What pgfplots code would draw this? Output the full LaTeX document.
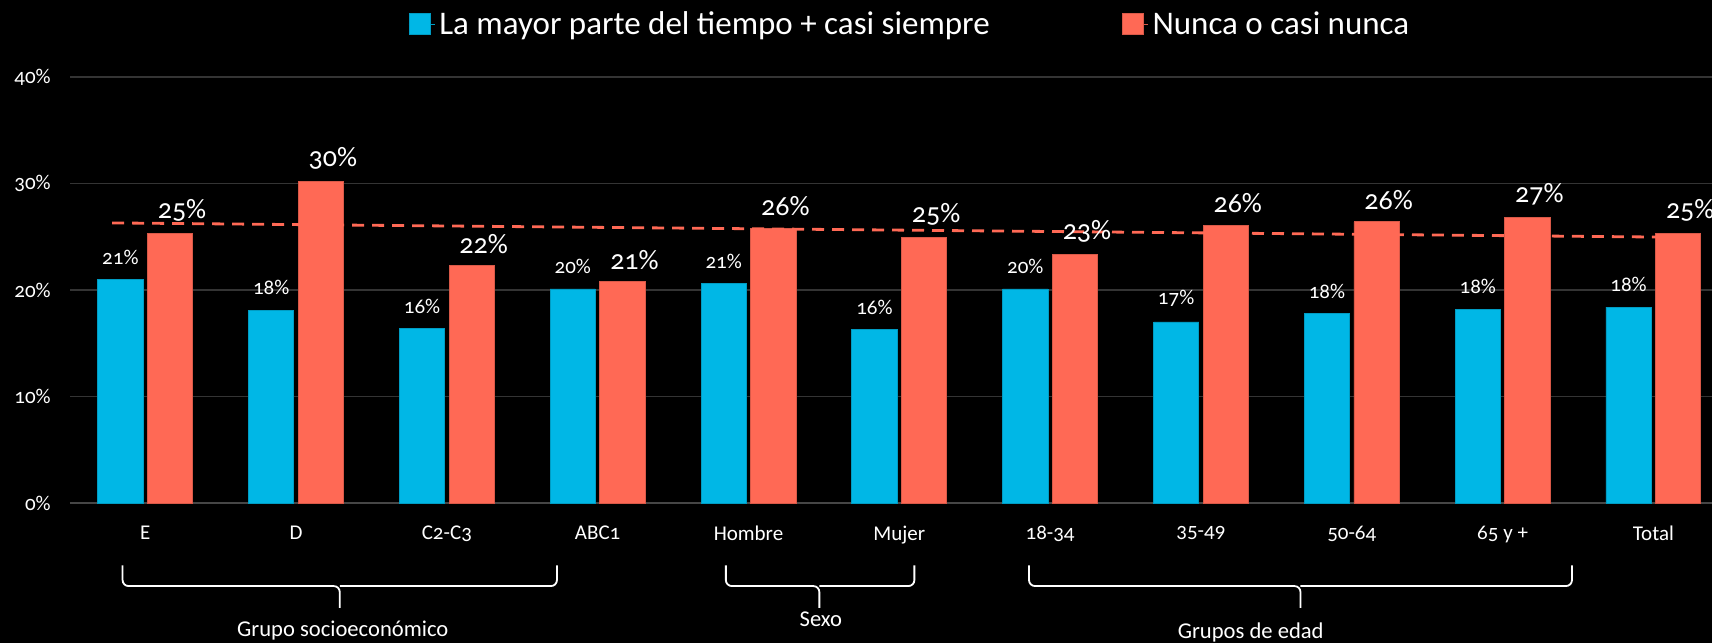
\documentclass[border=0pt]{standalone}
\usepackage{fontspec}
\setmainfont{Carlito}[Numbers=OldStyle]
\usepackage{pgfplots}
\pgfplotsset{compat=1.18}
\definecolor{cblue}{RGB}{0,183,230}
\definecolor{cred}{RGB}{255,105,85}
\definecolor{gridgray}{RGB}{52,52,52}
\definecolor{axgray}{RGB}{70,70,70}
\pgfplotsset{
  sqlegend/.style={legend image code/.code={\path (0pt,0pt) -- (13pt,0pt);\fill[##1] (0pt,-5pt) rectangle (10.5pt,5.5pt);}},
}
\begin{document}
\begin{tikzpicture}
\fill[black] (0,0) rectangle (856pt,321.5pt);
\useasboundingbox (0,0) rectangle (856pt,321.5pt);
\begin{axis}[
    at={(34.9pt,70pt)}, anchor=south west,
    scale only axis, width=829.5pt, height=213pt,
    xmin=-0.5, xmax=10.5, ymin=0, ymax=40,
    ybar=2.2pt, bar width=0.3,
    clip=false,
    axis x line*=bottom, axis y line*=left,
    x axis line style={-, draw=axgray, line width=1.2pt},
    y axis line style={draw=none},
    major tick length=0pt, tick style={draw=none},
    ymajorgrids, grid style={gridgray, line width=0.7pt},
    ytick={0,10,20,30,40},
    yticklabel={\pgfmathprintnumber{\tick}\%},
    /pgf/number format/assume math mode=true,
    xtick={0,...,10},
    xticklabels={E,D,C2-C3,ABC1,Hombre,Mujer,18-34,35-49,50-64,65 y +,Total},
    xticklabel style={font=\fontsize{10.5}{12}\selectfont, text=white, yshift=-8pt},
    yticklabel style={font=\fontsize{10.5}{12}\selectfont, text=white, xshift=-6pt},
    legend style={at={(0.507,1.124)}, anchor=center, draw=none, fill=none,
        text=white, font=\fontsize{16.5}{19}\selectfont, legend columns=2,
        /tikz/every even column/.append style={column sep=64pt}},
]
% La mayor parte del tiempo + casi siempre
\addplot[fill=cblue, draw=cblue!85!black, line width=0.4pt, sqlegend,
    nodes near coords={\pgfmathprintnumber[fixed,precision=0]{\pgfplotspointmeta}\%},
    every node near coord/.append style={text=white, font=\fontsize{10.5}{12}\selectfont, yshift=4pt}]
coordinates {(0,21.0) (1,18.1) (2,16.4) (3,20.1) (4,20.6) (5,16.3) (6,20.1) (7,17.0) (8,17.8) (9,18.2) (10,18.4)};
\addlegendentry{La mayor parte del tiempo + casi siempre}
% Nunca o casi nunca
\addplot[fill=cred, draw=cred!85!black, line width=0.4pt, sqlegend,
    nodes near coords={\pgfmathprintnumber[fixed,precision=0]{\pgfplotspointmeta}\%},
    every node near coord/.append style={text=white, font=\fontsize{14}{16}\selectfont, yshift=2.5pt, xshift=6pt}]
coordinates {(0,25.3) (1,30.2) (2,22.3) (3,20.8) (4,25.8) (5,24.9) (6,23.3) (7,26.1) (8,26.4) (9,26.8) (10,25.3)};
\addlegendentry{Nunca o casi nunca}
% trend line
\addplot[sharp plot, forget plot, cred, line width=1.4pt, dash pattern=on 6pt off 4pt]
coordinates {(-0.22,26.3) (10.2,24.95)};

% group braces
\begin{scope}[white, line width=0.9pt, rounded corners=3pt]
\draw (axis cs:-0.15,-5.85) -- (axis cs:-0.15,-7.8) -- (axis cs:1.29,-7.8) -- (axis cs:1.29,-9.85);
\draw (axis cs:2.73,-5.85) -- (axis cs:2.73,-7.8) -- (axis cs:1.29,-7.8);
\draw (axis cs:3.85,-5.85) -- (axis cs:3.85,-7.8) -- (axis cs:4.47,-7.8) -- (axis cs:4.47,-9.85);
\draw (axis cs:5.10,-5.85) -- (axis cs:5.10,-7.8) -- (axis cs:4.47,-7.8);
\draw (axis cs:5.86,-5.85) -- (axis cs:5.86,-7.8) -- (axis cs:7.66,-7.8) -- (axis cs:7.66,-9.85);
\draw (axis cs:9.46,-5.85) -- (axis cs:9.46,-7.8) -- (axis cs:7.66,-7.8);
\end{scope}
\node[text=white, font=\fontsize{11.3}{13}\selectfont] at (axis cs:1.31,-12.0) {Grupo socioeconómico};
\node[text=white, font=\fontsize{11.3}{13}\selectfont] at (axis cs:4.48,-10.9) {Sexo};
\node[text=white, font=\fontsize{11.3}{13}\selectfont] at (axis cs:7.33,-12.2) {Grupos de edad};
\end{axis}
\end{tikzpicture}
\end{document}
